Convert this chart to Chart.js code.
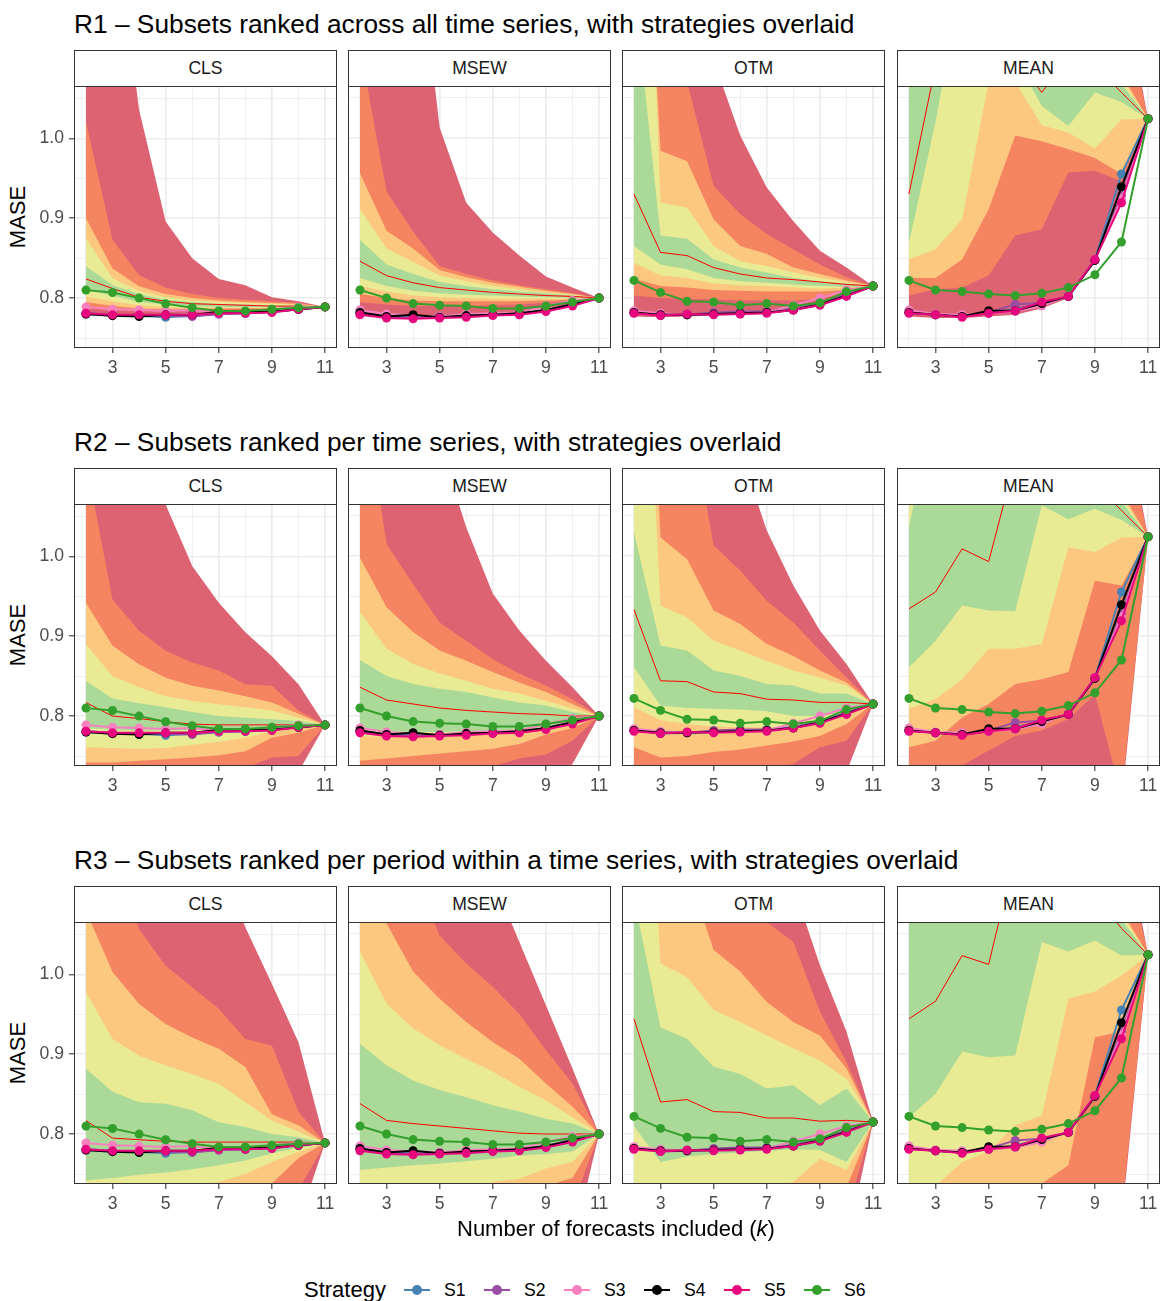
<!DOCTYPE html>
<html>
<head>
<meta charset="utf-8">
<script src="https://cdn.jsdelivr.net/npm/chart.js@4.4.1/dist/chart.umd.min.js"></script>
<style>
  body { margin: 0; width: 1161px; height: 1301px; background: #fff; position: relative; overflow: hidden;
         font-family: "Liberation Sans", Arial, sans-serif; color: #000; }
  .title { position: absolute; left: 74px; height: 32px; line-height: 32px; font-size: 26.3px; white-space: nowrap; }
  .strip { position: absolute; box-sizing: border-box; border: 1px solid #333; background: #fff;
           text-align: center; font-size: 17.6px; color: #1a1a1a; }
  .frame { position: absolute; box-sizing: border-box; border: 1px solid #333; pointer-events: none; }
  .ytitle { position: absolute; font-size: 22px; transform: rotate(-90deg); transform-origin: center; white-space: nowrap; }
  canvas { position: absolute; }
  .key { position: absolute; width: 26px; height: 10px; }
  .key .ln { position: absolute; left: 0; right: 0; top: 4px; height: 2px; }
  .key .dot { position: absolute; left: 8px; top: 0; width: 10px; height: 10px; border-radius: 50%; }
  .klab { position: absolute; font-size: 17.6px; }
</style>
</head>
<body>
<script>
// ---- axes / labels ----
const K = [2, 3, 4, 5, 6, 7, 8, 9, 10, 11];
const X_GRID = [2, 3, 4, 5, 6, 7, 8, 9, 10, 11];
const X_LABELED = [3, 5, 7, 9, 11];
const Y_GRID = [0.75, 0.8, 0.85, 0.9, 0.95, 1.0, 1.05];
const Y_LABELED = [0.8, 0.9, 1.0];
const METHODS = ['CLS', 'MSEW', 'OTM', 'MEAN'];
const ROW_TITLES = [
  'R1 – Subsets ranked across all time series, with strategies overlaid',
  'R2 – Subsets ranked per time series, with strategies overlaid',
  'R3 – Subsets ranked per period within a time series, with strategies overlaid'
];
const STRATEGIES = ['S1', 'S2', 'S3', 'S4', 'S5', 'S6'];

// ---- strategy MASE (same in every row), S1..S6 ----
const CLS_STRATEGIES = [
  [0.781, 0.779, 0.778, 0.776, 0.778, 0.780, 0.781, 0.783, 0.786, 0.789],
  [0.780, 0.778, 0.778, 0.778, 0.777, 0.780, 0.781, 0.783, 0.786, 0.789],
  [0.789, 0.786, 0.785, 0.784, 0.785, 0.781, 0.782, 0.786, 0.789, 0.789],
  [0.780, 0.778, 0.777, 0.779, 0.779, 0.783, 0.783, 0.783, 0.786, 0.789],
  [0.781, 0.779, 0.779, 0.779, 0.779, 0.781, 0.781, 0.782, 0.786, 0.789],
  [0.810, 0.807, 0.800, 0.793, 0.788, 0.784, 0.784, 0.786, 0.788, 0.789]
];
const MSEW_STRATEGIES = [
  [0.782, 0.777, 0.776, 0.776, 0.778, 0.779, 0.780, 0.784, 0.792, 0.800],
  [0.781, 0.776, 0.775, 0.777, 0.778, 0.779, 0.780, 0.785, 0.793, 0.800],
  [0.785, 0.780, 0.778, 0.777, 0.780, 0.781, 0.782, 0.790, 0.797, 0.800],
  [0.782, 0.777, 0.779, 0.776, 0.778, 0.779, 0.781, 0.785, 0.792, 0.800],
  [0.779, 0.775, 0.774, 0.775, 0.776, 0.778, 0.779, 0.783, 0.790, 0.800],
  [0.810, 0.800, 0.793, 0.791, 0.790, 0.787, 0.787, 0.790, 0.795, 0.800]
];
const OTM_STRATEGIES = [
  [0.782, 0.779, 0.779, 0.780, 0.781, 0.783, 0.786, 0.793, 0.804, 0.815],
  [0.782, 0.778, 0.779, 0.782, 0.783, 0.783, 0.786, 0.793, 0.804, 0.815],
  [0.784, 0.781, 0.779, 0.780, 0.780, 0.782, 0.791, 0.800, 0.810, 0.815],
  [0.782, 0.779, 0.779, 0.780, 0.781, 0.782, 0.785, 0.792, 0.803, 0.815],
  [0.781, 0.778, 0.780, 0.779, 0.780, 0.781, 0.785, 0.791, 0.802, 0.815],
  [0.822, 0.807, 0.796, 0.795, 0.791, 0.793, 0.790, 0.794, 0.808, 0.815]
];
const MEAN_STRATEGIES = [
  [0.782, 0.779, 0.777, 0.781, 0.786, 0.793, 0.802, 0.848, 0.955, 1.024],
  [0.782, 0.779, 0.777, 0.782, 0.792, 0.794, 0.802, 0.847, 0.928, 1.024],
  [0.785, 0.780, 0.779, 0.781, 0.783, 0.790, 0.803, 0.848, 0.924, 1.024],
  [0.782, 0.779, 0.777, 0.784, 0.784, 0.793, 0.802, 0.847, 0.939, 1.024],
  [0.781, 0.779, 0.776, 0.781, 0.784, 0.795, 0.802, 0.848, 0.919, 1.024],
  [0.822, 0.810, 0.808, 0.805, 0.803, 0.806, 0.813, 0.829, 0.870, 1.024]
];

// ---- subset quantile bands: lower / upper edges, outer (red) to inner (green) ----
const R1_CLS_LOWER = [
  [0.778, 0.779, 0.779, 0.780, 0.781, 0.782, 0.783, 0.784, 0.786, 0.789],
  [0.787, 0.785, 0.784, 0.784, 0.784, 0.785, 0.786, 0.786, 0.787, 0.789],
  [0.795, 0.790, 0.787, 0.786, 0.786, 0.787, 0.787, 0.787, 0.788, 0.789],
  [0.802, 0.796, 0.791, 0.789, 0.788, 0.788, 0.788, 0.788, 0.788, 0.789],
  [0.810, 0.803, 0.795, 0.792, 0.790, 0.789, 0.789, 0.789, 0.789, 0.789]
];
const R1_CLS_MEDIAN = [0.824, 0.812, 0.801, 0.796, 0.793, 0.792, 0.791, 0.790, 0.790, 0.789];
const R1_CLS_UPPER = [
  [1.600, 1.300, 1.036, 0.896, 0.850, 0.824, 0.816, 0.801, 0.796, 0.789],
  [1.021, 0.873, 0.829, 0.813, 0.805, 0.800, 0.798, 0.796, 0.794, 0.789],
  [0.900, 0.837, 0.815, 0.805, 0.800, 0.797, 0.795, 0.794, 0.793, 0.789],
  [0.875, 0.825, 0.809, 0.801, 0.797, 0.795, 0.794, 0.793, 0.792, 0.789],
  [0.840, 0.816, 0.805, 0.798, 0.795, 0.793, 0.792, 0.791, 0.790, 0.789]
];

const R1_MSEW_LOWER = [
  [0.778, 0.776, 0.776, 0.777, 0.779, 0.781, 0.783, 0.787, 0.793, 0.800],
  [0.795, 0.792, 0.790, 0.790, 0.790, 0.791, 0.792, 0.794, 0.797, 0.800],
  [0.805, 0.800, 0.797, 0.796, 0.796, 0.796, 0.796, 0.797, 0.798, 0.800],
  [0.815, 0.808, 0.803, 0.801, 0.800, 0.799, 0.799, 0.799, 0.799, 0.800],
  [0.825, 0.815, 0.809, 0.806, 0.804, 0.803, 0.802, 0.801, 0.800, 0.800]
];
const R1_MSEW_MEDIAN = [0.846, 0.828, 0.819, 0.813, 0.810, 0.807, 0.805, 0.803, 0.802, 0.800];
const R1_MSEW_UPPER = [
  [2.000, 1.600, 1.300, 1.013, 0.919, 0.882, 0.853, 0.827, 0.813, 0.800],
  [1.115, 0.933, 0.883, 0.840, 0.830, 0.822, 0.816, 0.811, 0.806, 0.800],
  [0.956, 0.884, 0.862, 0.835, 0.826, 0.819, 0.814, 0.809, 0.805, 0.800],
  [0.911, 0.862, 0.845, 0.828, 0.821, 0.815, 0.811, 0.807, 0.804, 0.800],
  [0.873, 0.842, 0.830, 0.820, 0.815, 0.811, 0.808, 0.806, 0.803, 0.800]
];

const R1_OTM_LOWER = [
  [0.777, 0.776, 0.777, 0.778, 0.779, 0.780, 0.784, 0.790, 0.801, 0.815],
  [0.803, 0.800, 0.799, 0.798, 0.797, 0.797, 0.797, 0.799, 0.806, 0.815],
  [0.824, 0.815, 0.813, 0.810, 0.809, 0.808, 0.808, 0.808, 0.810, 0.815],
  [0.844, 0.828, 0.825, 0.818, 0.816, 0.815, 0.813, 0.812, 0.813, 0.815],
  [0.865, 0.842, 0.836, 0.825, 0.821, 0.819, 0.817, 0.815, 0.814, 0.815]
];
const R1_OTM_MEDIAN = [0.930, 0.857, 0.853, 0.838, 0.830, 0.825, 0.823, 0.820, 0.817, 0.815];
const R1_OTM_UPPER = [
  [2.000, 1.600, 1.250, 1.097, 1.003, 0.938, 0.896, 0.859, 0.838, 0.815],
  [1.500, 1.250, 1.070, 0.940, 0.905, 0.880, 0.861, 0.842, 0.826, 0.815],
  [1.600, 0.984, 0.971, 0.898, 0.865, 0.855, 0.838, 0.830, 0.822, 0.815],
  [1.800, 0.919, 0.913, 0.865, 0.846, 0.840, 0.832, 0.825, 0.820, 0.815],
  [1.190, 0.878, 0.874, 0.848, 0.838, 0.832, 0.825, 0.821, 0.818, 0.815]
];

const R1_MEAN_LOWER = [
  [0.777, 0.775, 0.775, 0.777, 0.779, 0.787, 0.800, 0.845, 0.920, 1.024],
  [0.803, 0.811, 0.813, 0.828, 0.878, 0.886, 0.957, 0.959, 0.946, 1.024],
  [0.825, 0.825, 0.848, 0.911, 1.003, 0.996, 0.986, 0.975, 0.955, 1.024],
  [0.848, 0.861, 0.898, 1.070, 1.070, 1.016, 1.007, 0.987, 1.023, 1.024],
  [0.869, 1.020, 1.200, 1.200, 1.100, 1.040, 1.015, 1.057, 1.045, 1.024]
];
const R1_MEAN_MEDIAN = [0.930, 1.090, 1.200, 1.200, 1.100, 1.057, 1.100, 1.090, 1.057, 1.024];
const R1_MEAN_UPPER = [
  [1.700, 1.700, 1.700, 1.700, 1.700, 1.700, 1.700, 1.700, 1.200, 1.024],
  [1.600, 1.600, 1.600, 1.600, 1.600, 1.600, 1.600, 1.600, 1.170, 1.024],
  [1.500, 1.500, 1.500, 1.500, 1.500, 1.500, 1.500, 1.500, 1.080, 1.024],
  [1.400, 1.400, 1.400, 1.400, 1.400, 1.400, 1.400, 1.400, 1.074, 1.024],
  [1.300, 1.300, 1.300, 1.300, 1.300, 1.300, 1.300, 1.300, 1.068, 1.024]
];

const R2_CLS_LOWER = [
  [0.680, 0.680, 0.690, 0.690, 0.700, 0.700, 0.710, 0.720, 0.730, 0.789],
  [0.720, 0.720, 0.722, 0.725, 0.728, 0.731, 0.735, 0.748, 0.750, 0.789],
  [0.742, 0.742, 0.744, 0.746, 0.748, 0.751, 0.756, 0.773, 0.779, 0.789],
  [0.761, 0.760, 0.759, 0.760, 0.764, 0.768, 0.773, 0.781, 0.785, 0.789],
  [0.785, 0.783, 0.782, 0.782, 0.783, 0.784, 0.785, 0.786, 0.787, 0.789]
];
const R2_CLS_MEDIAN = [0.817, 0.800, 0.797, 0.793, 0.790, 0.789, 0.789, 0.789, 0.789, 0.789];
const R2_CLS_UPPER = [
  [1.450, 1.300, 1.150, 1.065, 0.988, 0.942, 0.905, 0.875, 0.840, 0.789],
  [1.120, 0.946, 0.907, 0.882, 0.867, 0.857, 0.840, 0.838, 0.807, 0.789],
  [0.942, 0.888, 0.865, 0.848, 0.838, 0.832, 0.825, 0.817, 0.803, 0.789],
  [0.890, 0.850, 0.836, 0.825, 0.819, 0.815, 0.811, 0.807, 0.798, 0.789],
  [0.844, 0.822, 0.816, 0.811, 0.805, 0.800, 0.798, 0.796, 0.794, 0.789]
];

const R2_MSEW_LOWER = [
  [0.680, 0.680, 0.690, 0.690, 0.700, 0.700, 0.710, 0.720, 0.740, 0.800],
  [0.720, 0.722, 0.725, 0.728, 0.731, 0.737, 0.747, 0.752, 0.769, 0.800],
  [0.744, 0.747, 0.750, 0.753, 0.756, 0.759, 0.765, 0.777, 0.785, 0.800],
  [0.775, 0.774, 0.774, 0.775, 0.776, 0.777, 0.779, 0.783, 0.790, 0.800],
  [0.784, 0.781, 0.780, 0.780, 0.781, 0.782, 0.783, 0.787, 0.793, 0.800]
];
const R2_MSEW_MEDIAN = [0.836, 0.820, 0.815, 0.810, 0.807, 0.805, 0.803, 0.802, 0.800, 0.800];
const R2_MSEW_UPPER = [
  [1.500, 1.400, 1.250, 1.140, 1.036, 0.953, 0.907, 0.869, 0.836, 0.800],
  [1.240, 1.015, 0.965, 0.917, 0.894, 0.871, 0.853, 0.838, 0.821, 0.800],
  [0.998, 0.936, 0.905, 0.882, 0.869, 0.855, 0.842, 0.830, 0.815, 0.800],
  [0.930, 0.884, 0.865, 0.853, 0.844, 0.834, 0.828, 0.819, 0.809, 0.800],
  [0.870, 0.850, 0.840, 0.834, 0.830, 0.823, 0.817, 0.813, 0.805, 0.800]
];

const R2_OTM_LOWER = [
  [0.680, 0.680, 0.690, 0.690, 0.700, 0.700, 0.710, 0.720, 0.730, 0.815],
  [0.720, 0.725, 0.728, 0.730, 0.733, 0.736, 0.740, 0.761, 0.769, 0.815],
  [0.761, 0.748, 0.750, 0.755, 0.758, 0.763, 0.768, 0.775, 0.790, 0.815],
  [0.811, 0.795, 0.790, 0.787, 0.786, 0.786, 0.786, 0.790, 0.800, 0.815],
  [0.861, 0.813, 0.810, 0.809, 0.808, 0.806, 0.800, 0.800, 0.805, 0.815]
];
const R2_OTM_MEDIAN = [0.933, 0.844, 0.843, 0.830, 0.828, 0.821, 0.820, 0.817, 0.817, 0.815];
const R2_OTM_UPPER = [
  [2.000, 1.600, 1.400, 1.200, 1.130, 1.032, 0.963, 0.907, 0.865, 0.815],
  [1.800, 1.300, 1.200, 1.013, 0.982, 0.944, 0.917, 0.882, 0.848, 0.815],
  [1.700, 1.023, 0.996, 0.932, 0.915, 0.890, 0.875, 0.857, 0.842, 0.815],
  [1.600, 0.938, 0.923, 0.894, 0.882, 0.869, 0.857, 0.848, 0.838, 0.815],
  [1.030, 0.888, 0.882, 0.857, 0.850, 0.840, 0.838, 0.828, 0.828, 0.815]
];

const R2_MEAN_LOWER = [
  [0.650, 0.650, 0.650, 0.660, 0.670, 0.680, 0.690, 0.700, 0.690, 1.024],
  [0.720, 0.728, 0.738, 0.757, 0.775, 0.782, 0.796, 0.827, 0.700, 1.024],
  [0.761, 0.769, 0.798, 0.815, 0.840, 0.846, 0.855, 0.969, 0.963, 1.024],
  [0.809, 0.821, 0.846, 0.884, 0.884, 0.890, 1.011, 1.005, 1.023, 1.024],
  [0.861, 0.894, 0.938, 0.932, 0.931, 1.063, 1.046, 1.059, 1.045, 1.024]
];
const R2_MEAN_MEDIAN = [0.934, 0.955, 1.009, 0.993, 1.120, 1.150, 1.150, 1.090, 1.057, 1.024];
const R2_MEAN_UPPER = [
  [1.700, 1.700, 1.700, 1.700, 1.700, 1.700, 1.700, 1.700, 1.200, 1.024],
  [1.600, 1.600, 1.600, 1.600, 1.600, 1.600, 1.600, 1.600, 1.170, 1.024],
  [1.500, 1.500, 1.500, 1.500, 1.500, 1.500, 1.500, 1.500, 1.080, 1.024],
  [1.400, 1.400, 1.400, 1.400, 1.400, 1.400, 1.400, 1.400, 1.074, 1.024],
  [1.036, 1.200, 1.300, 1.300, 1.300, 1.300, 1.300, 1.300, 1.068, 1.024]
];

const R3_CLS_LOWER = [
  [0.620, 0.620, 0.630, 0.640, 0.650, 0.660, 0.670, 0.680, 0.690, 0.789],
  [0.660, 0.660, 0.670, 0.680, 0.690, 0.700, 0.710, 0.720, 0.730, 0.789],
  [0.700, 0.700, 0.700, 0.710, 0.715, 0.720, 0.728, 0.738, 0.770, 0.789],
  [0.720, 0.722, 0.725, 0.730, 0.735, 0.740, 0.750, 0.765, 0.778, 0.789],
  [0.742, 0.745, 0.749, 0.752, 0.756, 0.761, 0.767, 0.776, 0.783, 0.789]
];
const R3_CLS_MEDIAN = [0.817, 0.795, 0.793, 0.791, 0.790, 0.790, 0.790, 0.790, 0.790, 0.789];
const R3_CLS_UPPER = [
  [1.650, 1.550, 1.450, 1.350, 1.250, 1.150, 1.059, 0.988, 0.915, 0.789],
  [1.250, 1.150, 1.057, 1.011, 0.984, 0.957, 0.919, 0.911, 0.828, 0.789],
  [1.080, 1.003, 0.963, 0.938, 0.921, 0.907, 0.884, 0.825, 0.811, 0.789],
  [0.978, 0.919, 0.898, 0.886, 0.875, 0.863, 0.840, 0.817, 0.803, 0.789],
  [0.882, 0.853, 0.840, 0.838, 0.830, 0.815, 0.809, 0.800, 0.796, 0.789]
];

const R3_MSEW_LOWER = [
  [0.550, 0.560, 0.570, 0.580, 0.590, 0.600, 0.620, 0.640, 0.660, 0.800],
  [0.600, 0.610, 0.620, 0.630, 0.640, 0.650, 0.665, 0.690, 0.710, 0.800],
  [0.650, 0.660, 0.670, 0.680, 0.690, 0.700, 0.715, 0.735, 0.745, 0.800],
  [0.700, 0.700, 0.710, 0.720, 0.730, 0.740, 0.744, 0.757, 0.765, 0.800],
  [0.755, 0.758, 0.761, 0.763, 0.766, 0.769, 0.773, 0.775, 0.778, 0.800]
];
const R3_MSEW_MEDIAN = [0.838, 0.817, 0.813, 0.810, 0.807, 0.804, 0.801, 0.800, 0.800, 0.800];
const R3_MSEW_UPPER = [
  [1.520, 1.440, 1.360, 1.280, 1.200, 1.120, 1.040, 0.961, 0.882, 0.800],
  [1.270, 1.200, 1.130, 1.048, 1.013, 0.984, 0.950, 0.905, 0.863, 0.800],
  [1.130, 1.063, 1.003, 0.969, 0.940, 0.915, 0.894, 0.863, 0.834, 0.800],
  [1.028, 0.963, 0.932, 0.911, 0.894, 0.878, 0.859, 0.842, 0.821, 0.800],
  [0.913, 0.886, 0.867, 0.855, 0.846, 0.836, 0.828, 0.819, 0.813, 0.800]
];

const R3_OTM_LOWER = [
  [0.550, 0.560, 0.570, 0.580, 0.590, 0.600, 0.620, 0.640, 0.660, 0.815],
  [0.600, 0.610, 0.620, 0.630, 0.640, 0.650, 0.660, 0.680, 0.700, 0.815],
  [0.650, 0.660, 0.670, 0.680, 0.690, 0.700, 0.710, 0.720, 0.733, 0.815],
  [0.700, 0.700, 0.700, 0.710, 0.720, 0.730, 0.740, 0.769, 0.755, 0.815],
  [0.810, 0.765, 0.772, 0.775, 0.777, 0.779, 0.781, 0.780, 0.765, 0.815]
];
const R3_OTM_MEDIAN = [0.944, 0.840, 0.843, 0.828, 0.827, 0.820, 0.820, 0.816, 0.817, 0.815];
const R3_OTM_UPPER = [
  [1.700, 1.600, 1.500, 1.400, 1.300, 1.200, 1.110, 1.011, 0.928, 0.815],
  [1.500, 1.400, 1.300, 1.250, 1.150, 1.065, 1.040, 0.953, 0.890, 0.815],
  [1.400, 1.250, 1.130, 1.030, 1.003, 0.965, 0.940, 0.923, 0.882, 0.815],
  [1.600, 1.013, 0.996, 0.955, 0.940, 0.923, 0.907, 0.892, 0.869, 0.815],
  [1.095, 0.933, 0.919, 0.884, 0.875, 0.857, 0.861, 0.836, 0.857, 0.815]
];

const R3_MEAN_LOWER = [
  [0.550, 0.560, 0.570, 0.580, 0.590, 0.600, 0.620, 0.640, 0.690, 1.024],
  [0.600, 0.610, 0.620, 0.630, 0.640, 0.650, 0.660, 0.680, 0.700, 1.024],
  [0.660, 0.670, 0.680, 0.690, 0.700, 0.738, 0.761, 0.921, 0.928, 1.024],
  [0.730, 0.735, 0.765, 0.778, 0.811, 0.823, 0.969, 0.978, 0.998, 1.024],
  [0.821, 0.850, 0.903, 0.896, 0.898, 1.040, 1.028, 1.042, 1.023, 1.024]
];
const R3_MEAN_MEDIAN = [0.944, 0.966, 1.023, 1.012, 1.150, 1.150, 1.150, 1.100, 1.057, 1.024];
const R3_MEAN_UPPER = [
  [1.700, 1.700, 1.700, 1.700, 1.700, 1.700, 1.700, 1.700, 1.200, 1.024],
  [1.600, 1.600, 1.600, 1.600, 1.600, 1.600, 1.600, 1.600, 1.170, 1.024],
  [1.500, 1.500, 1.500, 1.500, 1.500, 1.500, 1.500, 1.500, 1.080, 1.024],
  [1.400, 1.400, 1.400, 1.400, 1.400, 1.400, 1.400, 1.400, 1.074, 1.024],
  [1.300, 1.300, 1.300, 1.300, 1.300, 1.300, 1.300, 1.300, 1.068, 1.024]
];

// ---- styles ----
const BAND_COLORS = ['rgb(221,99,114)', 'rgb(244,133,96)', 'rgb(252,200,128)', 'rgb(232,234,148)', 'rgb(171,217,152)'];
const STRATEGY_COLORS = ['#4682B4', '#984EA3', '#F781BF', '#000000', '#E7067E', '#33A02C'];
const FONT = '"Liberation Sans", Arial, sans-serif';
const PLOT_LEFT = [74, 348, 622, 897];
const PLOT_TOP = [86, 504, 922];
const PW = 263, PH = 262;
const PAD_L = 50, PAD_R = 8, PAD_T = 15, PAD_B = 34;

const STRATEGY_SETS = [CLS_STRATEGIES, MSEW_STRATEGIES, OTM_STRATEGIES, MEAN_STRATEGIES];
const BANDS = [
  [[R1_CLS_LOWER, R1_CLS_MEDIAN, R1_CLS_UPPER], [R1_MSEW_LOWER, R1_MSEW_MEDIAN, R1_MSEW_UPPER],
   [R1_OTM_LOWER, R1_OTM_MEDIAN, R1_OTM_UPPER], [R1_MEAN_LOWER, R1_MEAN_MEDIAN, R1_MEAN_UPPER]],
  [[R2_CLS_LOWER, R2_CLS_MEDIAN, R2_CLS_UPPER], [R2_MSEW_LOWER, R2_MSEW_MEDIAN, R2_MSEW_UPPER],
   [R2_OTM_LOWER, R2_OTM_MEDIAN, R2_OTM_UPPER], [R2_MEAN_LOWER, R2_MEAN_MEDIAN, R2_MEAN_UPPER]],
  [[R3_CLS_LOWER, R3_CLS_MEDIAN, R3_CLS_UPPER], [R3_MSEW_LOWER, R3_MSEW_MEDIAN, R3_MSEW_UPPER],
   [R3_OTM_LOWER, R3_OTM_MEDIAN, R3_OTM_UPPER], [R3_MEAN_LOWER, R3_MEAN_MEDIAN, R3_MEAN_UPPER]]
];

function pts(vals) {
  return K.map((k, i) => ({ x: k, y: vals[i] }));
}

function addDiv(cls, css, html) {
  const d = document.createElement('div');
  d.className = cls;
  Object.assign(d.style, css);
  if (html !== undefined) d.innerHTML = html;
  document.body.appendChild(d);
  return d;
}

function buildDatasets(lower, median, upper, strategies) {
  const ds = [];
  // nested ribbons: red drawn first, green last
  for (let b = 0; b < 5; b++) {
    ds.push({ data: pts(lower[b]), borderColor: 'rgba(0,0,0,0)', borderWidth: 0,
              pointRadius: 0, fill: false, order: 30 });
    ds.push({ data: pts(upper[b]), borderColor: 'rgba(0,0,0,0)', borderWidth: 0,
              pointRadius: 0, fill: '-1', backgroundColor: BAND_COLORS[b], order: 24 - b });
  }
  ds.push({ data: pts(median), borderColor: '#FF0000', borderWidth: 1, pointRadius: 0,
            fill: false, order: 10 });
  strategies.forEach((vals, s) => {
    const c = STRATEGY_COLORS[s];
    ds.push({ label: STRATEGIES[s], data: pts(vals), borderColor: c, backgroundColor: c,
              pointBackgroundColor: c, pointBorderColor: c, pointBorderWidth: 0,
              pointRadius: 4.5, borderWidth: 2, fill: false, order: 6 - s });
  });
  return ds;
}

function makePanel(r, c) {
  const L = PLOT_LEFT[c], T = PLOT_TOP[r];
  const cv = document.createElement('canvas');
  cv.width = PAD_L + PW + PAD_R;
  cv.height = PAD_T + PH + PAD_B;
  cv.style.left = (L - PAD_L) + 'px';
  cv.style.top = (T - PAD_T) + 'px';
  document.body.appendChild(cv);

  const [lower, median, upper] = BANDS[r][c];
  const showY = c === 0;

  new Chart(cv, {
    type: 'line',
    data: { datasets: buildDatasets(lower, median, upper, STRATEGY_SETS[c]) },
    options: {
      responsive: false,
      animation: false,
      events: [],
      layout: { padding: { left: 0, right: PAD_R, top: PAD_T, bottom: 0 } },
      plugins: { legend: { display: false }, tooltip: { enabled: false }, colors: { enabled: false } },
      scales: {
        x: {
          type: 'linear', min: 1.55, max: 11.45,
          afterBuildTicks: ax => { ax.ticks = X_GRID.map(v => ({ value: v })); },
          afterFit: ax => { ax.height = PAD_B; },
          border: { display: false },
          grid: {
            color: '#EBEBEB',
            lineWidth: ctx => X_LABELED.includes(ctx.tick.value) ? 1.6 : 0.8,
            tickColor: ctx => X_LABELED.includes(ctx.tick.value) ? '#333333' : 'rgba(0,0,0,0)',
            tickLength: 5, tickWidth: 1.1
          },
          ticks: {
            autoSkip: false, maxRotation: 0, padding: 5, color: '#4D4D4D',
            font: { family: FONT, size: 17.6 },
            callback: v => X_LABELED.includes(v) ? String(v) : ''
          }
        },
        y: {
          type: 'linear', min: 0.7375, max: 1.065,
          afterBuildTicks: ax => { ax.ticks = Y_GRID.map(v => ({ value: v })); },
          afterFit: ax => { ax.width = PAD_L; },
          border: { display: false },
          grid: {
            color: '#EBEBEB',
            lineWidth: ctx => Y_LABELED.includes(ctx.tick.value) ? 1.6 : 0.8,
            tickColor: ctx => (showY && Y_LABELED.includes(ctx.tick.value)) ? '#333333' : 'rgba(0,0,0,0)',
            tickLength: 5, tickWidth: 1.1
          },
          ticks: {
            display: showY, autoSkip: false, padding: 5, color: '#4D4D4D',
            font: { family: FONT, size: 17.6 },
            callback: v => Y_LABELED.includes(v) ? v.toFixed(1) : ''
          }
        }
      }
    }
  });

  addDiv('frame', { left: L + 'px', top: T + 'px', width: PW + 'px', height: PH + 'px' });
  addDiv('strip', { left: L + 'px', top: (T - 36) + 'px', width: PW + 'px', height: '37px',
                    lineHeight: '35px' }, METHODS[c]);
}

// titles, panels
ROW_TITLES.forEach((t, r) => {
  addDiv('title', { top: (PLOT_TOP[r] - 78) + 'px' }, t);
  const yt = addDiv('ytitle', {}, 'MASE');
  const w = yt.offsetWidth, h = yt.offsetHeight;
  yt.style.left = (18 - w / 2) + 'px';
  yt.style.top = (PLOT_TOP[r] + PH / 2 - h / 2) + 'px';
  for (let c = 0; c < 4; c++) makePanel(r, c);
});

// x axis title
const xt = addDiv('xtitle', { position: 'absolute', fontSize: '22px', whiteSpace: 'nowrap' },
                  'Number of forecasts included (<i>k</i>)');
xt.style.left = (616 - xt.offsetWidth / 2) + 'px';
xt.style.top = (1229 - xt.offsetHeight / 2) + 'px';

// legend
const lg = addDiv('lgtitle', { position: 'absolute', fontSize: '22px', left: '304px' }, 'Strategy');
lg.style.top = (1290 - lg.offsetHeight / 2) + 'px';
STRATEGIES.forEach((s, i) => {
  const key = addDiv('key', { left: (404 + 80 * i) + 'px', top: '1285px' },
    '<div class="ln"></div><div class="dot"></div>');
  key.querySelector('.ln').style.background = STRATEGY_COLORS[i];
  key.querySelector('.dot').style.background = STRATEGY_COLORS[i];
  const lab = addDiv('klab', { left: (444 + 80 * i) + 'px' }, s);
  lab.style.top = (1290 - lab.offsetHeight / 2) + 'px';
});
</script>
</body>
</html>
